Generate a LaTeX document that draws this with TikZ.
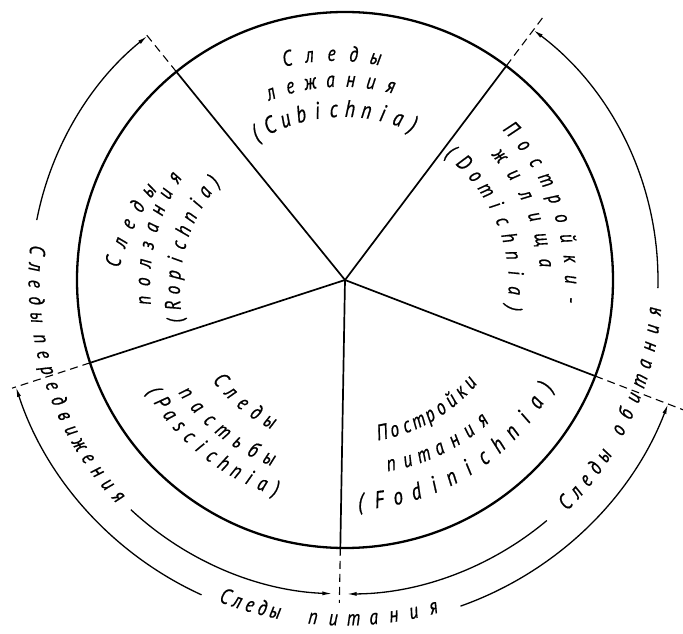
\documentclass[tikz,border=0pt]{standalone}
\usepackage{fontspec}
\setmainfont{PT Sans}
\newfontfamily\drf[FakeStretch=0.8,FakeBold=0.6]{PT Sans}
\usetikzlibrary{arrows.meta}
\def\LP{(}\def\RP{)}
% #1 name prefix, #2 number of characters, #3 r1, #4 angle1, #5 r2, #6 angle2, #7 characters
\newcommand\ctext[7]{%
 \foreach \ch [count=\ci] in {#7}{%
  \pgfmathsetmacro\cT{(\ci-1)/(#2-1)}%
  \pgfmathsetmacro\cR{(#3)+((#5)-(#3))*\cT}%
  \pgfmathsetmacro\cA{(#4)+((#6)-(#4))*\cT}%
  \pgfmathsetmacro\cD{((#6)-(#4))*pi/180}%
  \pgfmathsetmacro\cRot{atan2(((#5)-(#3))*sin(\cA)+\cR*cos(\cA)*\cD,((#5)-(#3))*cos(\cA)-\cR*sin(\cA)*\cD)}%
  \node[lbl,rotate=\cRot] (#1\ci) at (\cA:\cR) {\ch};
 }}
\tikzset{
 lbl/.style={font={\drf\itshape\fontsize{22pt}{22pt}\selectfont},inner sep=0pt,anchor=mid},
 big/.style={lbl/.append style={font={\drf\itshape\fontsize{24pt}{24pt}\selectfont}}},
 rim/.style={line width=2.3pt},
 spoke/.style={line width=1.7pt},
 outer/.style={line width=1.3pt},
 tip/.style={-{Latex[length=10pt,width=4pt]}},
 dline/.style={line width=1.1pt,dash pattern=on 8pt off 5pt},
}
\begin{document}
\begin{tikzpicture}[x=1pt,y=1pt]
\useasboundingbox (-345,-354) rectangle (338,280);
\fill[white] (-345,-354) rectangle (338,280);
\coordinate (c) at (0,0);
% circle and spokes
\draw[rim] (c) circle[radius=268];
\foreach \a/\n in {129/ul,53/ur,198/l,-21/r,-91/b}{
  \coordinate (s\n) at (\a:268);
  \draw[spoke] (c) -- (s\n);
}
% dashed extensions
\coordinate (dul) at (129:316);
\coordinate (dur) at (53:328);
\coordinate (dl) at (198:350);
\coordinate (dr) at (-21:372);
\coordinate (db) at (-91:323);
\draw[dline] (sul) -- (dul);
\draw[dline] (sur) -- (dur);
\draw[dline] (sl) -- (dl);
\draw[dline] (sr) -- (dr);
\draw[dline] (sb) -- (db);
% arcs: Следы передвижения (r=314)
\draw[outer,tip] (169:314) arc[start angle=169,end angle=129,radius=314];
\draw[outer,tip] (227:314) arc[start angle=227,end angle=267.7,radius=314];
% arcs: Следы обитания (r=314)
\draw[outer,tip] (-50:314) arc[start angle=-50,end angle=-89.7,radius=314];
\draw[outer,tip] (-1.5:313) arc[start angle=-1.5,end angle=53,radius=313];
% arcs: Следы питания (r=346)
\draw[outer,tip] (245.5:346) arc[start angle=245.5,end angle=198,radius=346];
\draw[outer,tip] (-70.5:346) arc[start angle=-70.5,end angle=-21,radius=346];
% inner labels
\ctext{cba}{5}{224}{104.7}{220}{82.2}{С,л,е,д,ы}
\ctext{cbb}{7}{197}{111.7}{195}{76.7}{л,е,ж,а,н,и,я}
\begin{scope}[big]
\ctext{cbc}{11}{166.5}{121.5}{165}{66.2}{\LP,C,u,b,i,c,h,n,i,a,\RP}
\end{scope}
\ctext{roa}{5}{227.6}{175.7}{211.7}{155.7}{С,л,е,д,ы}
\ctext{rob}{8}{198}{185.8}{194.7}{149}{п,о,л,з,а,н,и,я}
\ctext{roc}{11}{169.8}{193.6}{160.6}{142.8}{\LP,R,o,p,i,c,h,n,i,a,\RP}
\ctext{paa}{5}{164}{218.8}{164}{242}{С,л,е,д,ы}
\ctext{pab}{7}{198.7}{215.4}{197.6}{247}{п,а,с,т,ь,б,ы}
\ctext{pac}{12}{225}{210}{224}{251.8}{\LP,P,a,s,c,i,c,h,n,i,a,\RP}
\ctext{foa}{9}{161.5}{-76.4}{165.6}{-39.4}{П,о,с,т,р,о,й,к,и}
\ctext{fob}{7}{193.8}{-76}{200}{-45.6}{п,и,т,а,н,и,я}
\begin{scope}[big]
\ctext{foc}{13}{227.6}{-86}{231.7}{-27.8}{\LP,F,o,d,i,n,i,c,h,n,i,a,\RP}
\end{scope}
\ctext{doa}{10}{220}{42.2}{223}{-5.1}{П,о,с,т,р,о,й,к,и,-}
\ctext{dob}{6}{195}{38.7}{197.7}{4.9}{ж,и,л,и,щ,а}
\ctext{doc}{11}{162}{50.5}{167}{-9.6}{\LP,D,o,m,i,c,h,n,i,a,\RP}
% outer labels
\ctext{lma}{5}{314}{174.5}{314}{186.9}{С,л,е,д,ы}
\ctext{lmb}{12}{314}{190.9}{317}{223.7}{п,е,р,е,д,в,и,ж,е,н,и,я}
\ctext{lda}{5}{318}{-45.3}{317}{-34.1}{С,л,е,д,ы}
\ctext{ldb}{8}{316}{-28.7}{315}{-5.8}{о,б,и,т,а,н,и,я}
\ctext{lfa}{5}{343}{-110.7}{343}{-101.9}{С,л,е,д,ы}
\ctext{lfb}{7}{343}{-95.4}{343}{-74.9}{п,и,т,а,н,и,я}
\end{tikzpicture}
\end{document}
